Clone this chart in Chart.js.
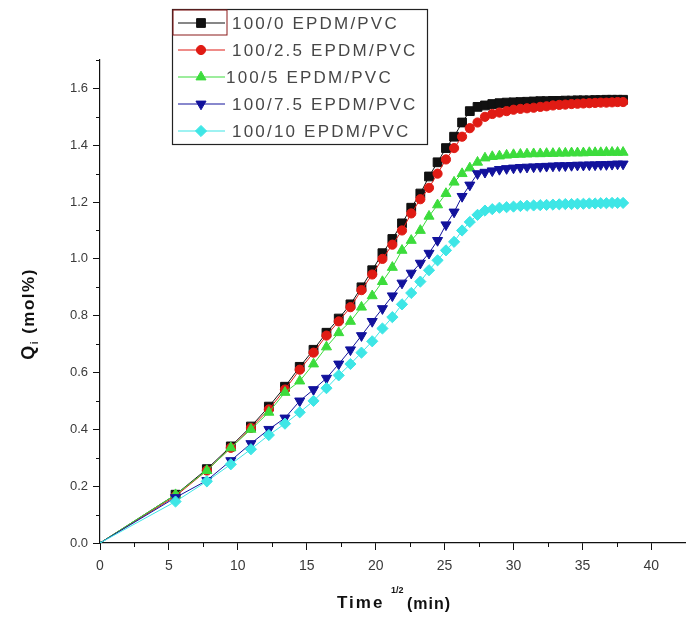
<!DOCTYPE html>
<html>
<head>
<meta charset="utf-8">
<script src="https://cdn.jsdelivr.net/npm/chart.js@4/dist/chart.umd.min.js"></script>
<style>
html,body{margin:0;padding:0;background:#fff;}
#wrap{width:693px;height:619px;}
</style>
</head>
<body>
<div id="wrap"><canvas id="grafico" width="693" height="619"></canvas></div>
<script>

// Time^1/2 (min) for every sample
const tiempos = [0,5.48,7.75,9.49,10.95,12.25,13.42,14.49,15.49,16.43,17.32,18.17,18.97,19.75,20.49,21.21,21.91,22.58,23.24,23.87,24.49,25.10,25.69,26.27,26.83,27.39,
27.93,28.46,28.98,29.50,30.00,30.50,30.98,31.46,31.94,32.40,32.86,33.32,33.76,34.21,34.64,35.07,35.50,35.92,36.33,36.74,37.15,37.55,37.95];

const series = ["100/0 EPDM/PVC","100/2.5 EPDM/PVC","100/5 EPDM/PVC","100/7.5 EPDM/PVC","100/10 EPDM/PVC"];

const q0 = [0,0.17,0.26,0.34,0.41,0.48,0.55,0.62,0.68,0.74,0.79,0.84,0.90,0.96,1.02,1.07,1.125,1.18,1.23,1.29,1.34,1.39,1.43,1.48,1.52,1.535,
1.54,1.545,1.548,1.55,1.551,1.552,1.553,1.554,1.555,1.555,1.556,1.556,1.557,1.557,1.558,1.558,1.558,1.559,1.559,1.56,1.56,1.56,1.56];

const q25 = [0,0.165,0.255,0.335,0.405,0.47,0.54,0.61,0.67,0.73,0.78,0.83,0.89,0.945,1.00,1.05,1.10,1.16,1.21,1.25,1.30,1.35,1.39,1.43,1.46,1.48,
1.50,1.51,1.515,1.52,1.525,1.528,1.53,1.532,1.535,1.537,1.54,1.542,1.543,1.545,1.546,1.547,1.548,1.549,1.55,1.55,1.551,1.552,1.552];

const q5 = [0,0.17,0.255,0.335,0.40,0.46,0.53,0.57,0.63,0.69,0.74,0.78,0.83,0.87,0.92,0.97,1.03,1.065,1.10,1.15,1.19,1.23,1.27,1.30,1.32,1.34,
1.355,1.36,1.362,1.365,1.367,1.368,1.369,1.37,1.37,1.371,1.371,1.372,1.372,1.373,1.373,1.373,1.374,1.374,1.374,1.375,1.375,1.375,1.375];

const q75 = [0,0.16,0.22,0.29,0.35,0.40,0.44,0.50,0.54,0.58,0.63,0.68,0.73,0.78,0.825,0.87,0.915,0.95,0.985,1.02,1.065,1.12,1.165,1.22,1.26,1.30,
1.305,1.31,1.315,1.318,1.32,1.322,1.323,1.324,1.325,1.326,1.327,1.328,1.328,1.329,1.33,1.33,1.331,1.331,1.332,1.332,1.333,1.334,1.334];

const q10 = [0,0.146,0.217,0.277,0.33,0.38,0.42,0.46,0.50,0.545,0.59,0.63,0.67,0.71,0.755,0.795,0.84,0.88,0.92,0.96,0.995,1.03,1.06,1.10,1.13,1.155,
1.17,1.175,1.18,1.182,1.184,1.186,1.187,1.188,1.189,1.19,1.191,1.192,1.193,1.193,1.194,1.194,1.195,1.195,1.196,1.196,1.197,1.197,1.197];

const xTicks = [0,5,10,15,20,25,30,35,40];
const yTicks = [0,0.2,0.4,0.6,0.8,1.0,1.2,1.4,1.6];

const colores = ['#111111','#e01b14','#3cdc3c','#12129c','#3ee6e6'];
const marcas = [
  {style:'rect', r:6.2, rot:0},
  {style:'circle', r:4.6, rot:0},
  {style:'triangle', r:5.8, rot:0},
  {style:'triangle', r:5.8, rot:180},
  {style:'rectRot', r:5.6, rot:0}
];
const valores = [q0,q25,q5,q75,q10];

const FUENTE = 'Arial, "Liberation Sans", sans-serif';

function esMayor(v, lista){
  return lista.some(t => Math.abs(t - v) < 1e-6);
}

const datasets = series.map((nombre,i)=>({
  label: nombre,
  data: tiempos.map((t,j)=>({x:t, y:valores[i][j]})),
  borderColor: colores[i],
  backgroundColor: colores[i],
  borderWidth: 1,
  pointStyle: marcas[i].style,
  pointRotation: marcas[i].rot,
  pointRadius: ctx => ctx.dataIndex === 0 ? 1.5 : marcas[i].r,
  pointBorderWidth: 1,
  pointBorderColor: colores[i],
  pointBackgroundColor: colores[i],
  order: 5 - i,
  tension: 0
}));

// minor ticks + axis titles + legend
const extras = {
  id: 'extras',
  afterDraw(chart){
    const c = chart.ctx;
    const xs = chart.scales.x, ys = chart.scales.y;
    const area = chart.chartArea;
    c.save();
    c.strokeStyle = '#111';
    c.lineWidth = 1;
    c.beginPath();
    for(let v=2.5; v<40; v+=5){
      const px = Math.round(xs.getPixelForValue(v)) + 0.5;
      c.moveTo(px, area.bottom); c.lineTo(px, area.bottom + 4);
    }
    for(let v=0.1; v<1.75; v+=0.2){
      const py = Math.round(ys.getPixelForValue(v)) + 0.5;
      c.moveTo(area.left, py); c.lineTo(area.left - 4, py);
    }
    c.stroke();

    // y title Qi (mol%)
    c.save();
    c.translate(28, 314);
    c.rotate(-Math.PI/2);
    c.fillStyle = '#111';
    c.textBaseline = 'alphabetic';
    c.letterSpacing = '1.5px';
    c.font = 'bold 18px ' + FUENTE;
    const wQ = c.measureText('Q').width;
    c.font = 'bold 10px ' + FUENTE;
    const wI = c.measureText('i').width;
    c.font = 'bold 17px ' + FUENTE;
    const wR = c.measureText(' (mol%)').width;
    let x0 = -(wQ + wI + wR)/2;
    c.font = 'bold 18px ' + FUENTE;
    c.fillText('Q', x0, 6);
    c.font = 'bold 10px ' + FUENTE;
    c.fillText('i', x0 + wQ, 10);
    c.font = 'bold 17px ' + FUENTE;
    c.fillText(' (mol%)', x0 + wQ + wI, 6);
    c.restore();

    // x title Time^1/2 (min)
    c.fillStyle = '#111';
    c.letterSpacing = '2px';
    c.font = 'bold 17px ' + FUENTE;
    c.textBaseline = 'alphabetic';
    c.fillText('Time', 337, 608);
    c.letterSpacing = '0px';
    c.font = 'bold 9px ' + FUENTE;
    c.fillText('1/2', 391, 593);
    c.letterSpacing = '1px';
    c.font = 'bold 16px ' + FUENTE;
    c.fillText('(min)', 407, 609);

    // legend
    const L = 172.5, T = 9.5, R = 427.5, B = 144.5;
    c.letterSpacing = '0px';
    c.strokeStyle = '#222';
    c.lineWidth = 1.2;
    c.strokeRect(L, T, R - L, B - T);
    c.strokeStyle = '#8b1a1a';
    c.lineWidth = 1;
    c.strokeRect(L + 0.5, T + 0.5, 54, 25);
    chart.data.datasets.forEach((ds,i)=>{
      const cy = 23 + i*27;
      c.strokeStyle = ds.borderColor;
      c.lineWidth = 1.2;
      c.beginPath();
      c.moveTo(178, cy); c.lineTo(225, cy);
      c.stroke();
      c.fillStyle = ds.backgroundColor;
      c.strokeStyle = ds.borderColor;
      c.lineWidth = 1;
      Chart.helpers.drawPoint(c, {
        pointStyle: marcas[i].style,
        rotation: marcas[i].rot,
        radius: marcas[i].r,
        borderWidth: 1
      }, 201, cy);
      c.fillStyle = '#474747';
      c.font = '17px ' + FUENTE;
      c.letterSpacing = '2.2px';
      c.textBaseline = 'middle';
      c.fillText(ds.label, i === 2 ? 226 : 232, cy + 1);
      c.letterSpacing = '0px';
    });
    c.restore();
  }
};

const chart = new Chart(document.getElementById('grafico'), {
  type: 'line',
  data: { datasets },
  options: {
    responsive: false,
    animation: false,
    layout: { padding: { top: 60, right: 3, left: 0, bottom: 0 } },
    plugins: { legend: { display: false }, tooltip: { enabled: false } },
    scales: {
      x: {
        type: 'linear',
        min: 0,
        max: 42.5,
        afterFit: s => { s.height = 76; },
        afterBuildTicks: s => { s.ticks = xTicks.map(v => ({value:v})); },
        border: { display: true, color: '#111', width: 1.2 },
        grid: { display: true, drawOnChartArea: false, drawTicks: true, tickLength: 7, color: '#111', lineWidth: 1 },
        ticks: {
          color: '#3a3a3a',
          font: { family: FUENTE, size: 14 },
          padding: 8,
          maxRotation: 0,
          callback: v => esMayor(v, xTicks) ? String(v) : ''
        }
      },
      y: {
        type: 'linear',
        min: 0,
        max: 1.7,
        afterFit: s => { s.width = 100; },
        afterBuildTicks: s => { s.ticks = yTicks.map(v => ({value:v})); },
        border: { display: true, color: '#111', width: 1.2 },
        grid: { display: true, drawOnChartArea: false, drawTicks: true, tickLength: 7, color: '#111', lineWidth: 1 },
        ticks: {
          color: '#3a3a3a',
          font: { family: FUENTE, size: 13 },
          padding: 5,
          callback: v => esMayor(v, yTicks) ? v.toFixed(1) : ''
        }
      }
    }
  },
  plugins: [extras]
});

</script>
</body>
</html>
